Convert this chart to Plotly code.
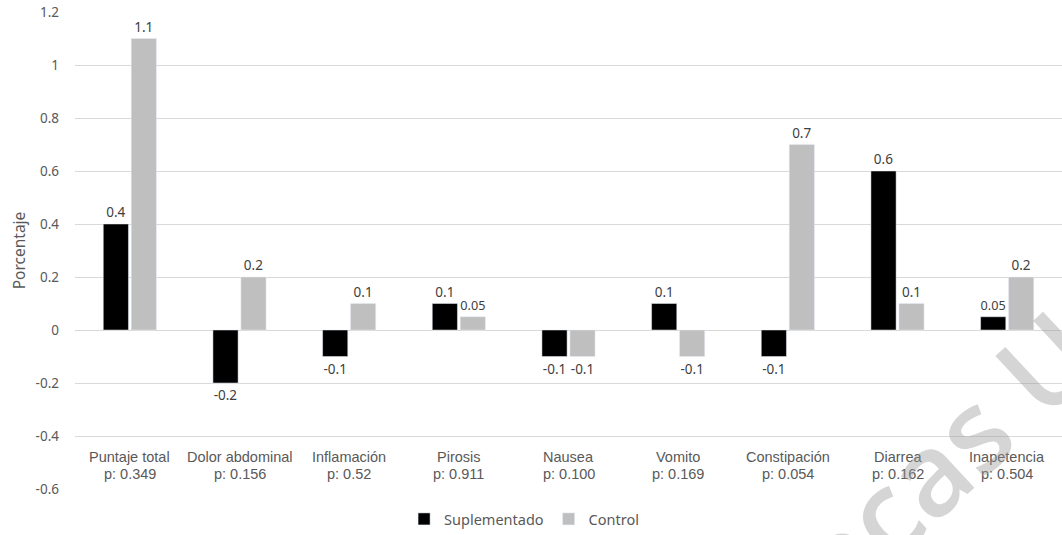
import plotly.graph_objects as go

categorias = ["Puntaje total", "Dolor abdominal", "Inflamación", "Pirosis", "Nausea",
              "Vomito", "Constipación", "Diarrea", "Inapetencia"]
valores_p = ["0.349", "0.156", "0.52", "0.911", "0.100", "0.169", "0.054", "0.162", "0.504"]
suplementado = [0.4, -0.2, -0.1, 0.1, -0.1, 0.1, -0.1, 0.6, 0.05]
control = [1.1, 0.2, 0.1, 0.05, -0.1, -0.1, 0.7, 0.1, 0.2]
y_ticks = [-0.6, -0.4, -0.2, 0, 0.2, 0.4, 0.6, 0.8, 1, 1.2]
y_tick_text = ["-0.6", "-0.4", "-0.2", "0", "0.2", "0.4", "0.6", "0.8", "1", "1.2"]

fuente = "Noto Sans"
gris_texto = "#595959"

fig = go.Figure()
for nombre, valores, color in [("Suplementado", suplementado, "#000000"),
                               ("Control", control, "#bfbfbf")]:
    fig.add_trace(go.Bar(
        name=nombre, x=categorias, y=valores,
        marker=dict(color=color),
        text=[f"{v:g}" for v in valores], textposition="outside",
        textfont=dict(family=fuente, size=13.5, color="#404040"),
        cliponaxis=False,
    ))

# category names and p-values in the bottom band of the plot
for cat, p in zip(categorias, valores_p):
    fig.add_annotation(
        x=cat, y=-0.513, xref="x", yref="y", yshift=8.5,
        text=cat, showarrow=False,
        font=dict(family="Liberation Sans", size=14.5, color=gris_texto),
    )
    fig.add_annotation(
        x=cat, y=-0.513, xref="x", yref="y", yshift=-8.5,
        text=f"p: {p}", showarrow=False,
        font=dict(family="Liberation Sans", size=14.5, color=gris_texto),
    )

# faint watermark lettering across the lower right corner
fig.add_annotation(
    x=0.880, y=0.071, xref="paper", yref="paper", xanchor="center", yanchor="middle",
    text="ecas U", showarrow=False, textangle=-43,
    font=dict(family="Open Sans", size=115, color="rgba(150,150,150,0.4)", weight=600),
)

fig.update_layout(
    width=1062, height=535,
    margin=dict(l=75, r=0, t=12, b=44),
    paper_bgcolor="white", plot_bgcolor="white",
    barmode="group", bargap=0.49, bargroupgap=0.1,
    showlegend=True,
    legend=dict(orientation="h", x=0.455, xanchor="center", y=-0.03, yanchor="top",
                font=dict(family=fuente, size=14.5, color=gris_texto),
                itemwidth=30, traceorder="normal"),
    font=dict(family=fuente, color=gris_texto),
)
fig.update_xaxes(showticklabels=False, showgrid=False, zeroline=False, showline=False,
                 ticks="")
fig.update_yaxes(
    range=[-0.6, 1.2], tickvals=y_ticks, ticktext=y_tick_text,
    showgrid=True, gridcolor="#d9d9d9", gridwidth=1,
    zeroline=True, zerolinecolor="#d9d9d9", zerolinewidth=1,
    tickfont=dict(family=fuente, size=13.5, color=gris_texto),
    ticklabelstandoff=15,
    title=dict(text="Porcentaje", font=dict(family=fuente, size=15.5, color=gris_texto), standoff=6),
)

fig.write_html("out.html")
